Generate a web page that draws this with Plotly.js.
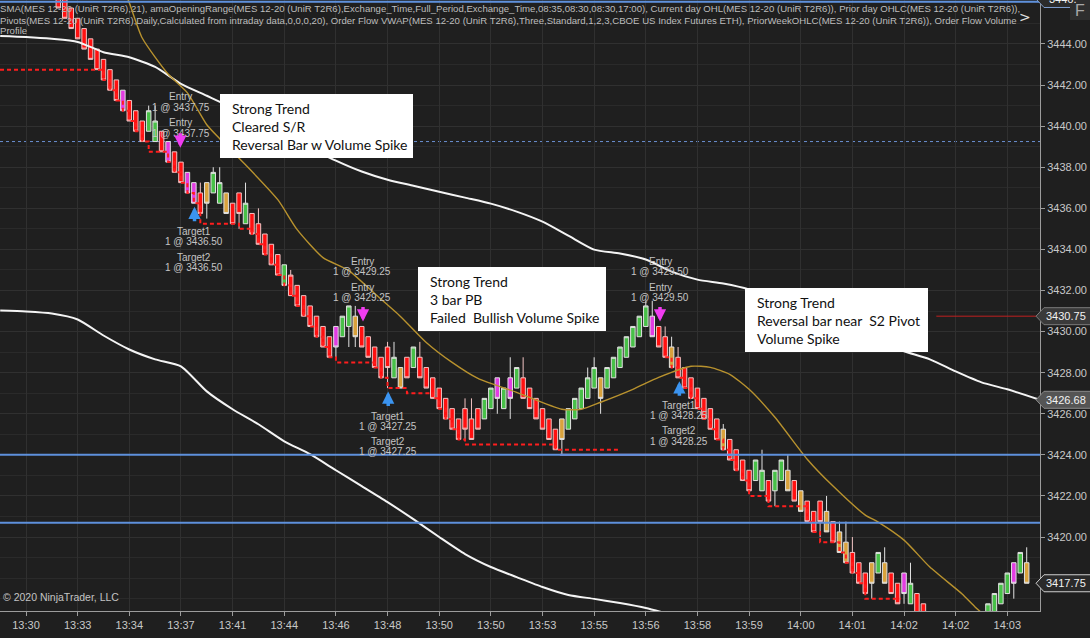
<!DOCTYPE html>
<html>
<head>
<meta charset="utf-8">
<script src="https://cdn.plot.ly/plotly-3.0.1.min.js"></script>
<style>
html,body{margin:0;padding:0;background:#1f1f1f;overflow:hidden;}
#chart{width:1090px;height:638px;}
</style>
</head>
<body>
<div id="chart"></div>
<script>
// ---------------- DATA ----------------
const tickBars = [0,8,16,24,32,40,48,56,64,72,80,88,96,104,112,120,128,136,144,152];
const tickLabels = ['13:30','13:33','13:34','13:37','13:41','13:44','13:46','13:48','13:50','13:50','13:53','13:55','13:56','13:58','13:59','14:00','14:01','14:02','14:02','14:03'];
const priceTicks = [3420,3422,3424,3426,3428,3430,3432,3434,3436,3438,3440,3442,3444];

const barIdx = [];
for (let i = 5; i <= 155; i++) barIdx.push(i);

const barColor = [
 'r','r','r','r','r','r','r','r','r','r',
 'm','r','r','r','g','g','r','m','r','r',
 'm','m','r','o','g','g','o','r','r','g',
 'r','r','r','r','r','g','r','r','r','r',
 'r','r','r','m','g','g','o','r','r','r',
 'r','r','g','o','r','g','r','r','r','r',
 'r','r','r','r','r','r','g','g','m','g',
 'm','g','r','r','r','r','r','r','o','g',
 'g','g','g','g','o','g','g','g','g','g',
 'g','g','m','r','r','o','r','r','r','r',
 'r','r','r','o','r','r','r','r','g','g',
 'r','g','g','o','r','o','r','r','r','o',
 'r','o','o','r','r','r','o','g','o','r',
 'r','m','g','r','r','r','r','r','r','g',
 'g','r','g','g','g','g','g','g','m','g',
 'o'];

const barOpen = [
 3446.75,3446.25,3445.75,3445.25,3444.75,3444.25,3443.75,3443.25,3442.75,3442.25,
 3441.75,3441.25,3440.75,3440.25,3439.75,3439.25,3439.75,3439.25,3438.75,3438.25,
 3437.75,3437.25,3436.75,3437.25,3436.75,3436.25,3436.75,3436.25,3436.75,3435.25,
 3435.75,3435.25,3434.75,3434.25,3433.75,3433.25,3431.75,3432.25,3431.75,3431.25,
 3430.75,3430.25,3429.75,3430.25,3429.75,3430.25,3430.75,3430.25,3429.75,3429.25,
 3428.75,3429.25,3427.75,3428.25,3428.75,3428.25,3428.75,3428.25,3427.75,3427.25,
 3426.75,3426.25,3425.75,3426.25,3425.75,3426.25,3425.75,3426.25,3427.75,3426.25,
 3427.75,3427.25,3427.75,3427.25,3426.75,3426.25,3425.75,3425.25,3425.75,3425.25,
 3425.75,3426.25,3426.75,3427.25,3427.75,3427.25,3427.75,3428.25,3428.75,3429.25,
 3429.75,3430.25,3430.75,3430.25,3429.75,3429.25,3428.75,3428.25,3427.75,3427.25,
 3426.75,3426.25,3425.75,3425.25,3424.75,3424.25,3423.75,3423.25,3422.75,3422.25,
 3422.75,3422.25,3422.75,3423.25,3422.75,3422.25,3421.75,3421.25,3421.75,3421.25,
 3420.75,3420.25,3419.75,3419.25,3418.75,3418.25,3418.75,3418.25,3418.75,3418.25,
 3417.75,3418.25,3416.75,3417.25,3416.75,3416.25,3415.75,3415.25,3414.75,3414.25,
 3414.75,3415.25,3414.75,3415.25,3415.75,3416.25,3416.75,3417.25,3418.75,3418.25,
 3418.75];

const barHigh = [
 3446.75,3446.25,3445.75,3445.25,3444.75,3444.25,3443.75,3443.25,3442.75,3442.25,
 3441.75,3441.25,3440.75,3440.25,3441.00,3441.00,3439.75,3439.25,3438.75,3438.25,
 3437.75,3437.25,3437.25,3437.25,3438.00,3438.00,3436.75,3436.25,3436.75,3437.25,
 3435.75,3436.00,3434.75,3434.25,3433.75,3433.25,3433.00,3432.25,3431.75,3431.25,
 3430.75,3430.25,3429.75,3430.25,3430.75,3431.25,3431.25,3430.25,3429.75,3429.25,
 3428.75,3429.50,3429.50,3428.25,3428.75,3429.25,3429.50,3428.25,3427.75,3427.25,
 3426.75,3426.25,3425.75,3426.75,3426.75,3426.25,3426.75,3427.25,3427.75,3427.25,
 3428.75,3428.25,3428.75,3427.25,3426.75,3426.25,3425.75,3425.25,3425.75,3426.25,
 3426.75,3427.25,3428.25,3428.75,3427.75,3428.25,3428.75,3429.25,3429.75,3430.25,
 3430.75,3431.50,3431.50,3430.25,3430.25,3429.75,3429.25,3428.25,3427.75,3427.25,
 3426.75,3426.25,3425.75,3425.50,3424.75,3424.25,3423.75,3423.25,3423.75,3424.25,
 3422.75,3423.25,3423.75,3424.00,3422.75,3422.25,3421.75,3421.25,3421.75,3422.00,
 3420.75,3420.75,3420.75,3420.00,3418.75,3418.25,3418.75,3419.25,3419.50,3418.25,
 3417.75,3418.25,3418.75,3417.25,3416.75,3416.25,3415.75,3415.25,3414.75,3415.25,
 3415.75,3415.25,3415.75,3416.25,3416.75,3417.25,3417.75,3418.25,3418.75,3419.25,
 3419.50];

const barLow = [
 3445.75,3445.25,3444.75,3444.25,3443.75,3443.25,3442.75,3442.25,3441.75,3441.25,
 3440.75,3440.25,3439.75,3439.25,3439.75,3439.25,3438.75,3438.25,3437.75,3437.25,
 3436.75,3436.25,3435.75,3435.50,3436.75,3436.25,3435.75,3435.25,3435.00,3435.25,
 3434.75,3434.25,3433.75,3433.25,3432.75,3432.25,3431.75,3431.25,3430.75,3430.25,
 3429.75,3429.25,3428.75,3428.75,3429.75,3429.25,3429.25,3429.25,3428.75,3428.25,
 3427.75,3427.25,3427.75,3427.25,3427.75,3428.25,3427.75,3427.25,3426.75,3426.25,
 3425.75,3425.25,3424.75,3424.75,3424.75,3425.25,3425.75,3426.25,3426.00,3426.25,
 3425.75,3427.25,3426.75,3426.25,3425.75,3425.25,3424.75,3424.25,3424.00,3425.25,
 3425.75,3426.25,3426.75,3427.25,3426.00,3427.25,3427.75,3428.25,3428.75,3429.25,
 3429.75,3430.25,3429.75,3429.25,3428.75,3428.25,3427.75,3427.25,3426.75,3426.25,
 3425.75,3425.25,3424.75,3424.25,3423.75,3423.25,3422.75,3422.25,3422.75,3422.25,
 3421.75,3421.50,3422.75,3422.25,3421.75,3421.25,3420.75,3420.25,3420.00,3420.25,
 3419.75,3419.25,3418.75,3418.25,3417.75,3417.25,3417.00,3418.25,3417.75,3417.25,
 3416.75,3416.75,3416.75,3416.25,3415.75,3415.25,3414.75,3414.25,3413.75,3414.25,
 3414.75,3414.25,3414.75,3415.25,3415.75,3416.25,3416.75,3417.25,3417.00,3418.25,
 3417.75];

const barClose = [
 3445.75,3445.25,3444.75,3444.25,3443.75,3443.25,3442.75,3442.25,3441.75,3441.25,
 3440.75,3440.25,3439.75,3439.25,3440.75,3440.25,3438.75,3438.25,3437.75,3437.25,
 3436.75,3436.25,3435.75,3436.25,3437.75,3437.25,3435.75,3435.25,3435.75,3436.25,
 3434.75,3434.25,3433.75,3433.25,3432.75,3432.25,3432.75,3431.25,3430.75,3430.25,
 3429.75,3429.25,3428.75,3429.25,3430.75,3431.25,3429.75,3429.25,3428.75,3428.25,
 3427.75,3428.25,3428.75,3427.25,3427.75,3429.25,3427.75,3427.25,3426.75,3426.25,
 3425.75,3425.25,3424.75,3425.25,3424.75,3425.25,3426.75,3427.25,3426.75,3427.25,
 3426.75,3428.25,3426.75,3426.25,3425.75,3425.25,3424.75,3424.25,3424.75,3426.25,
 3426.75,3427.25,3427.75,3428.25,3426.75,3428.25,3428.75,3429.25,3429.75,3430.25,
 3430.75,3431.25,3429.75,3429.25,3428.75,3428.25,3427.75,3427.25,3426.75,3426.25,
 3425.75,3425.25,3424.75,3424.25,3423.75,3423.25,3422.75,3422.25,3423.75,3423.25,
 3421.75,3423.25,3423.75,3422.25,3421.75,3421.25,3420.75,3420.25,3420.75,3420.25,
 3419.75,3419.25,3418.75,3418.25,3417.75,3417.25,3417.75,3419.25,3417.75,3417.25,
 3416.75,3417.25,3417.75,3416.25,3415.75,3415.25,3414.75,3414.25,3413.75,3415.25,
 3415.75,3414.25,3415.75,3416.25,3416.75,3417.25,3417.75,3418.25,3417.75,3419.25,
 3417.75];

// SMA upper / lower envelope (white), VWAP (gold)
const smaUpperIdx = [-4,0,4,8,12,16,20,24,28,32,40,48,52,56,60,64,68,72,76,80,84,88,92,96,100,104,108,112,116,120,124,128,132,136,140,144,148,152,157];
const smaUpperVal = [3444.39,3444.34,3444.25,3444.10,3443.60,3443.35,3442.88,3442.06,3441.48,3440.89,3439.58,3438.32,3437.79,3437.39,3437.10,3436.81,3436.52,3436.23,3435.84,3435.35,3434.67,3433.99,3433.80,3433.51,3432.92,3432.53,3432.34,3432.05,3431.56,3430.98,3430.49,3429.96,3429.52,3429.04,3428.65,3428.06,3427.53,3427.19,3426.68];
const smaLowerIdx = [-4,0,4,8,12,16,20,24,28,32,36,40,44,48,52,56,60,64,68,72,76,80,84,88,92,96,100];
const smaLowerVal = [3431.03,3430.98,3430.88,3430.59,3429.81,3429.13,3428.65,3428.31,3427.09,3426.22,3425.49,3424.66,3424.03,3423.25,3422.48,3421.70,3420.87,3420.00,3419.17,3418.54,3418.05,3417.57,3417.18,3416.99,3416.79,3416.55,3416.21];
const vwapIdx = [14,16,18,22,25,28,30,34,39,42,46,50,54,58,62,66,70,76,83,86,89,94,98,103,106,109,112,116,121,125,130,132,136,140,145,147,150];
const vwapVal = [3447.5,3446.0,3444.29,3442.54,3441.62,3440.07,3439.39,3438.12,3436.42,3434.96,3433.60,3432.97,3431.85,3430.74,3429.47,3428.50,3427.72,3427.04,3426.22,3426.22,3426.56,3427.19,3427.77,3428.31,3428.26,3427.92,3427.19,3425.83,3423.79,3422.48,3421.07,3420.73,3419.85,3418.54,3417.23,3416.60,3415.77];

// trailing stop (red dashed steps)
const trailIdx = [-4.03,12,13,14,15,16,17,18,19,22,23,24,25,26,27,33,35,36,37,38,39,40,41,42,43,44,45,46,47,48,54,55,56,59,63,64,65,66,67,68,82,92,
  null,99,100,101,102,103,104,105,106,107,108,109,110,111,112,115,121,122,123,126,127,128,129,130,135.5];
const trailVal = [3442.75,3442.25,3441.75,3441.25,3440.75,3440.25,3439.75,3439.25,3438.75,3438.25,3437.75,3437.25,3436.75,3436.25,3435.25,3435.0,3434.75,3434.25,3433.75,3433.25,3432.75,3432.25,3431.75,3431.25,3430.75,3430.25,3429.75,3429.25,3428.75,3428.5,3428.25,3427.75,3427.25,3427.0,3426.75,3426.25,3425.75,3425.25,3424.75,3424.5,3424.25,3424.25,
  null,3428.75,3428.25,3427.75,3427.25,3426.75,3426.25,3425.75,3425.25,3424.75,3424.25,3423.75,3423.25,3422.75,3422.0,3421.5,3420.75,3420.25,3419.75,3419.25,3418.75,3418.25,3417.75,3417.0,3417.0];

// horizontal levels
const blueLevels = [3446.05, 3424.0, 3420.70];
const dottedLevel = 3439.25;
const priorLowLevel = 3424.0;      // violet segment
const priorLowIdx = [82.7, 109.5];
const redLevel = 3430.75;
const redLevelIdx = [141, 157.06];

// execution labels
const execText = ['Entry','1 @ 3437.75','Entry','1 @ 3437.75','Target1','1 @ 3436.50','Target2','1 @ 3436.50',
                  'Entry','1 @ 3429.25','Entry','1 @ 3429.25','Target1','1 @ 3427.25','Target2','1 @ 3427.25',
                  'Entry','1 @ 3429.50','Entry','1 @ 3429.50','Target1','1 @ 3428.25','Target2','1 @ 3428.25'];
const execIdx = [24,24,24,24,26,26,26,26, 52.1,52.1,52.1,52.1,56.1,56.1,56.1,56.1, 98.2,98.2,98.2,98.2,101.2,101.2,101.2,101.2];
const execPrice = [3441.43,3440.89,3440.16,3439.63,3434.87,3434.38,3433.60,3433.12,
                   3433.41,3432.92,3432.15,3431.66,3425.88,3425.39,3424.66,3424.18,
                   3433.41,3432.92,3432.15,3431.66,3426.41,3425.93,3425.20,3424.66];
const sellArrowIdx = [23.9, 52.2, 98.2];
const sellArrowPrice = [3438.95, 3430.49, 3430.49];
const buyArrowIdx = [26.1, 56.1, 101.2];
const buyArrowPrice = [3436.08, 3427.09, 3427.58];

// note boxes
const noteLines = [
  ['Strong Trend','Cleared S/R','Reversal Bar w Volume Spike'],
  ['Strong Trend','3 bar PB','Failed  Bullish Volume Spike'],
  ['Strong Trend','Reversal bar near  S2 Pivot','Volume Spike']];

// right axis price tags
const tagPrice = [3446.19, 3430.75, 3426.68, 3417.75];
const tagText = ['3446.', '3430.75','3426.68','3417.75'];

const legendLines = [
 'SMA(MES 12-20 (UniR T2R6),21), amaOpeningRange(MES 12-20 (UniR T2R6),Exchange_Time,Full_Period,Exchange_Time,08:35,08:30,08:30,17:00), Current day OHL(MES 12-20 (UniR T2R6)), Prior day OHLC(MES 12-20 (UniR T2R6)),',
 'Pivots(MES 12-20 (UniR T2R6),Daily,Calculated from intraday data,0,0,0,20), Order Flow VWAP(MES 12-20 (UniR T2R6),Three,Standard,1,2,3,CBOE US Index Futures ETH), PriorWeekOHLC(MES 12-20 (UniR T2R6)), Order Flow Volume',
 'Profile'];

// ---------------- CHART ----------------
const X0 = -4.03, X1 = 157.06, Y0 = 3416.40, Y1 = 3446.14;
const W = 1040, H = 611;
const ppx = H / (Y1 - Y0);
const pxToPrice = py => Y1 - py / ppx;
const pxToIdx = px => X0 + px / W * (X1 - X0);
const priceToPaper = p => (p - Y0) / (Y1 - Y0);

const FONT = 'Liberation Sans, Arial, sans-serif';
const traces = [];

// legend text (under bars)
traces.push({type:'scatter', mode:'text', x:[X0, X0, X0], y:[pxToPrice(10), pxToPrice(21.5), pxToPrice(32)],
  text: legendLines, textposition:'middle right', textfont:{family:FONT, size:9.6, color:'#bdbdbd'},
  hoverinfo:'skip', showlegend:false, cliponaxis:true});

// trailing stop
traces.push({type:'scatter', mode:'lines', x:trailIdx, y:trailVal, line:{color:'#ff1e1e', width:2, dash:'4px,3px', shape:'hv'},
  connectgaps:false, hoverinfo:'skip', showlegend:false});

// violet prior-low segment
traces.push({type:'scatter', mode:'lines', x:priorLowIdx, y:[priorLowLevel, priorLowLevel], line:{color:'#b58ad6', width:2},
  hoverinfo:'skip', showlegend:false});

// candles by colour
const palette = {r:{fill:'#ff1010', line:'#f2c4c4'}, g:{fill:'#48c048', line:'#e2e2e2'},
                 o:{fill:'#d9a23c', line:'#e2e2e2'}, m:{fill:'#e33ce3', line:'#e2e2e2'}};
['r','g','o','m'].forEach(c => {
  const k = []; barColor.forEach((v, j) => { if (v === c) k.push(j); });
  const pal = palette[c];
  traces.push({type:'candlestick', x:k.map(j=>barIdx[j]), open:k.map(j=>barOpen[j]), high:k.map(j=>barHigh[j]),
    low:k.map(j=>barLow[j]), close:k.map(j=>barClose[j]),
    increasing:{fillcolor:pal.fill, line:{color:pal.line, width:1}},
    decreasing:{fillcolor:pal.fill, line:{color:pal.line, width:1}},
    whiskerwidth:0, hoverinfo:'skip', showlegend:false});
});

// red level
traces.push({type:'scatter', mode:'lines', x:redLevelIdx, y:[redLevel, redLevel], line:{color:'#c02020', width:1},
  hoverinfo:'skip', showlegend:false});
// envelopes and vwap
traces.push({type:'scatter', mode:'lines', x:smaUpperIdx, y:smaUpperVal, line:{color:'#f4f4f4', width:2, shape:'spline', smoothing:0.6},
  hoverinfo:'skip', showlegend:false});
traces.push({type:'scatter', mode:'lines', x:smaLowerIdx, y:smaLowerVal, line:{color:'#f4f4f4', width:2, shape:'spline', smoothing:0.6},
  hoverinfo:'skip', showlegend:false});
traces.push({type:'scatter', mode:'lines', x:vwapIdx, y:vwapVal, line:{color:'#b8922e', width:1.4, shape:'spline', smoothing:0.6},
  hoverinfo:'skip', showlegend:false});

const shapes = [];
blueLevels.forEach(v => shapes.push({type:'line', xref:'paper', yref:'y', x0:0, x1:1, y0:v, y1:v,
  line:{color:'#5e90dc', width:2}, layer:'above'}));
shapes.push({type:'line', xref:'paper', yref:'y', x0:0, x1:1, y0:dottedLevel, y1:dottedLevel,
  line:{color:'#6a8fd0', width:1, dash:'dot'}, layer:'below'});

// note boxes (pixel geometry converted to axis values)
const boxPx = [[220,413,94,158],[418,606,267,331],[745,928,288,352]];
const annotations = [];
boxPx.forEach((b, n) => {
  shapes.push({type:'rect', xref:'x', yref:'y', x0:pxToIdx(b[0]), x1:pxToIdx(b[1]), y0:pxToPrice(b[2]), y1:pxToPrice(b[3]),
    fillcolor:'#ffffff', line:{width:0}, layer:'above'});
  noteLines[n].forEach((t, li) => annotations.push({xref:'x', yref:'y', x:pxToIdx(b[0] + 10), y:pxToPrice(b[2] + 14 + li*18),
    text:t, showarrow:false, xanchor:'left', yanchor:'middle', font:{family:'Lato, sans-serif', size:14, color:'#111'}}));
});

// execution labels
execText.forEach((t, k) => annotations.push({xref:'x', yref:'y', x:execIdx[k], y:execPrice[k], text:t, showarrow:false,
  xanchor:'center', yanchor:'middle', borderpad:0, font:{family:FONT, size:10, color:'#c4c4c4'}}));
sellArrowIdx.forEach((x, k) => annotations.push({xref:'x', yref:'y', x:x, y:sellArrowPrice[k], ax:0, ay:-16, text:'',
  showarrow:true, arrowhead:2, arrowsize:0.7, arrowwidth:3.5, arrowcolor:'#f03cf0', standoff:0}));
buyArrowIdx.forEach((x, k) => annotations.push({xref:'x', yref:'y', x:x, y:buyArrowPrice[k], ax:0, ay:16, text:'',
  showarrow:true, arrowhead:2, arrowsize:0.7, arrowwidth:3.5, arrowcolor:'#3b94f0', standoff:0}));

// price tags on the right axis
const tagFill = ['#2b2b2b','#3a3a3a','#555555','#2a2a2a'];
const tagEdge = ['#7f9fd0','#7a7a7a','#8a8a8a','#cfcfcf'];
tagPrice.forEach((p, k) => {
  const yc = priceToPaper(p), hh = 8.5 / H;
  shapes.push({type:'path', xref:'paper', yref:'paper',
    path:`M ${1044/W} ${yc+hh} L ${1036/W} ${yc} L ${1044/W} ${yc-hh} L ${1092/W} ${yc-hh} L ${1092/W} ${yc+hh} Z`,
    fillcolor:tagFill[k], line:{color:tagEdge[k], width:1}, layer:'above'});
  annotations.push({xref:'paper', yref:'paper', x:(k === 0 ? 1047 : 1066)/W, y:yc, text:tagText[k], showarrow:false,
    xanchor:(k === 0 ? 'left' : 'center'), yanchor:'middle', font:{family:FONT, size:11, color:'#f2f2f2'}});
});
// "F" button and chevron
shapes.push({type:'rect', xref:'paper', yref:'paper', x0:1070/W, x1:1090/W, y0:1-20/H, y1:1+5/H, fillcolor:'#2e2e2e', line:{width:0}, layer:'above'});
annotations.push({xref:'paper', yref:'paper', x:1080/W, y:1-11/H, text:'F', showarrow:false, xanchor:'center', yanchor:'middle',
  font:{family:FONT, size:16, color:'#a8a8a8'}});
annotations.push({xref:'paper', yref:'paper', x:1025/W, y:1-17/H, text:'>', showarrow:false, xanchor:'center', yanchor:'middle',
  font:{family:'DejaVu Sans, sans-serif', size:14, color:'#e0e0e0'}});
annotations.push({xref:'paper', yref:'paper', x:0, y:1-597/H, xshift:1, text:'© 2020 NinjaTrader, LLC', showarrow:false,
  xanchor:'left', yanchor:'middle', font:{family:FONT, size:10.5, color:'#c4c4c4'}});

const layout = {
  width:1090, height:638,
  margin:{l:0, r:50, t:0, b:27, pad:0},
  paper_bgcolor:'#1f1f1f', plot_bgcolor:'#1f1f1f',
  showlegend:false, boxgap:0.15, boxgroupgap:0.18,
  font:{family:FONT, color:'#c8c8c8'},
  xaxis:{range:[X0, X1], tickmode:'array', tickvals:tickBars, ticktext:tickLabels, showgrid:true, gridcolor:'#303030', gridwidth:1,
    zeroline:false, showline:true, linecolor:'#9c9c9c', linewidth:1, ticks:'outside', ticklen:4, tickcolor:'#9c9c9c',
    tickfont:{family:FONT, size:11, color:'#c8c8c8'}, rangeslider:{visible:false}, fixedrange:true},
  yaxis:{range:[Y0, Y1], side:'right', tickmode:'array', tickvals:priceTicks, ticktext:priceTicks.map(v => v.toFixed(2)),
    showgrid:true, gridcolor:'#303030', gridwidth:1,
    minor:{dtick:1, tick0:3420, showgrid:true, gridcolor:'#2a2a2a', gridwidth:1},
    zeroline:false, showline:true, linecolor:'#9c9c9c', linewidth:1, ticks:'outside', ticklen:4, tickcolor:'#9c9c9c',
    tickfont:{family:FONT, size:11, color:'#c8c8c8'}, fixedrange:true},
  shapes:shapes, annotations:annotations
};

Plotly.newPlot('chart', traces, layout, {displayModeBar:false, staticPlot:true});
</script>
</body>
</html>
